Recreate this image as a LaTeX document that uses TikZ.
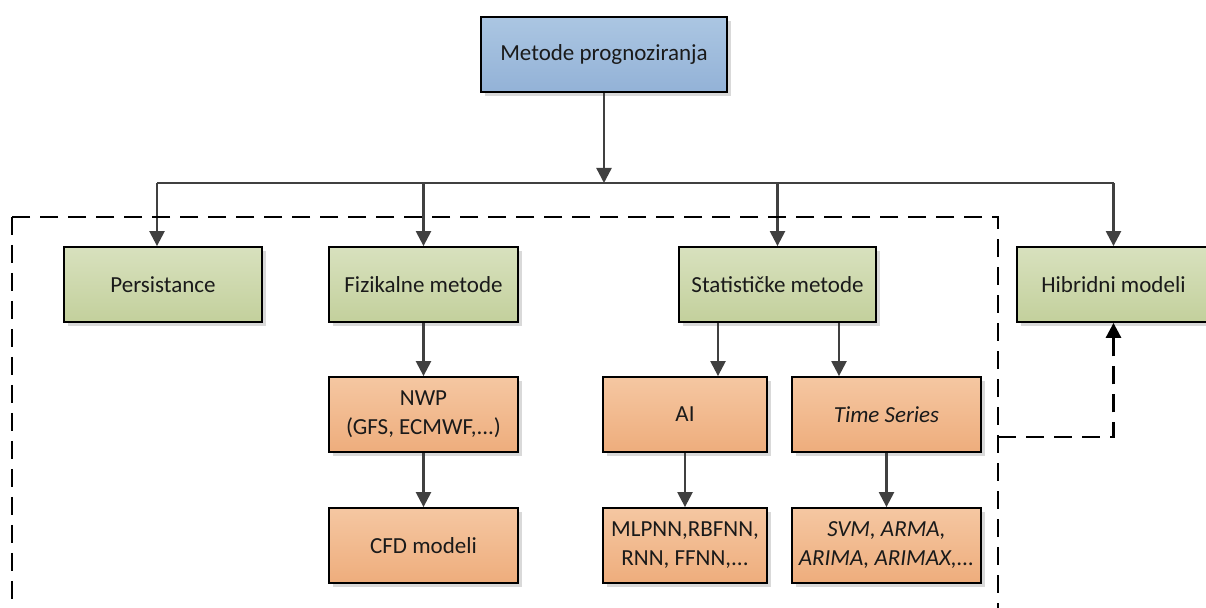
\documentclass[tikz,border=0pt]{standalone}
\usepackage{fontspec}
\setmainfont{Carlito}
\usetikzlibrary{arrows.meta,shadows}
\definecolor{blueT}{HTML}{ABC6E2}
\definecolor{blueB}{HTML}{93B2D7}
\definecolor{greenT}{HTML}{D8E1BE}
\definecolor{greenB}{HTML}{C3D09C}
\definecolor{orT}{HTML}{F5C7A2}
\definecolor{orB}{HTML}{EEAD7C}
\definecolor{conncol}{HTML}{404040}
\definecolor{txt}{HTML}{1A1A1A}
\tikzset{
  box/.style={draw=black, line width=0.9pt, minimum height=37.5pt, inner sep=2pt,
    align=center, text=txt, font=\fontsize{11.5}{14.5}\selectfont,
    drop shadow={shadow xshift=2pt, shadow yshift=-2pt, fill=black!15, opacity=1}},
  bluebox/.style={box, top color=blueT, bottom color=blueB},
  greenbox/.style={box, top color=greenT, bottom color=greenB},
  orbox/.style={box, top color=orT, bottom color=orB},
  conn/.style={draw=conncol, line width=1.2pt, -{Triangle[width=7.5pt,length=7.5pt]}},
  busline/.style={draw=conncol, line width=1.2pt},
  dashbox/.style={draw=black, line width=1.4pt, dash pattern=on 9pt off 5pt},
  dashconn/.style={dashbox, -{Triangle[width=7.5pt,length=7.5pt]}}
}
\begin{document}
\begin{tikzpicture}[x=0.5pt,y=-0.5pt]
\useasboundingbox (0,0) rectangle (1206,608);
\clip (0,0) rectangle (1206,608);

\node[bluebox, minimum width=123pt] (top) at (604,54.5) {Metode prognoziranja};

\node[greenbox, minimum width=99pt] (pers) at (163,284.5) {Persistance};
\node[greenbox, minimum width=94.5pt] (fiz) at (423.5,284.5) {Fizikalne metode};
\node[greenbox, minimum width=98.5pt] (stat) at (777.5,284.5) {Statističke metode};
\node[greenbox, minimum width=96.5pt] (hib) at (1113.5,284.5) {Hibridni modeli};

\node[orbox, minimum width=94.5pt] (nwp) at (423.5,414.5) {NWP\\(GFS, ECMWF,...)};
\node[orbox, minimum width=94.5pt] (cfd) at (423.5,545.5) {CFD modeli};
\node[orbox, minimum width=82pt] (ai) at (685,414.5) {AI};
\node[orbox, minimum width=94.5pt] (ts) at (886.5,414.5) {\textit{Time Series}};
\node[orbox, minimum width=82pt] (mlp) at (685,545.5) {MLPNN,RBFNN,\\RNN, FFNN,...};
\node[orbox, minimum width=94.5pt] (svm) at (886.5,545.5) {\textit{SVM, ARMA,}\\\textit{ARIMA, ARIMAX,...}};

% bus
\coordinate (bL) at (157,183);
\coordinate (bR) at (1113.5,183);
\draw[conn] (top.south) -- (top.south |- bL);
\draw[busline] (bL) -- (bR);
\draw[conn] (bL) -- (bL |- pers.north);
\draw[conn] (fiz.north |- bL) -- (fiz.north);
\draw[conn] (stat.north |- bL) -- (stat.north);
\draw[conn] (bR) -- (hib.north);

\draw[conn] (fiz) -- (nwp);
\draw[conn] (nwp) -- (cfd);
\draw[conn] ([xshift=-29.75pt]stat.south) -- ([xshift=-29.75pt]stat.south |- ai.north);
\draw[conn] ([xshift=30.75pt]stat.south) -- ([xshift=30.75pt]stat.south |- ts.north);
\draw[conn] (ai) -- (mlp);
\draw[conn] (ts) -- (svm);

% dashed group
\draw[dashbox] (12,217) rectangle (998,640);
\coordinate (dj) at (998,437);
\draw[dashconn] (dj) -- (dj -| hib.south) -- (hib.south);
\end{tikzpicture}
\end{document}
